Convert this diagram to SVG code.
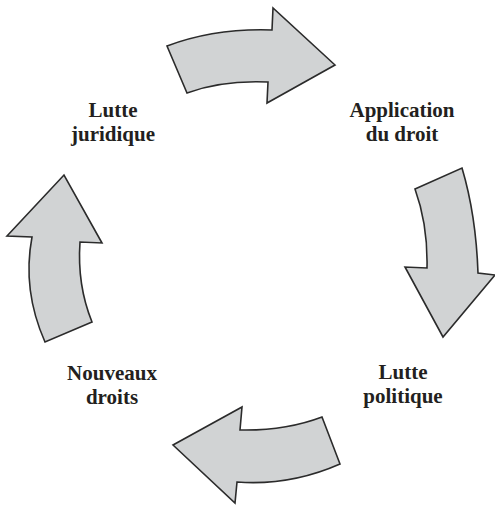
<svg xmlns="http://www.w3.org/2000/svg" width="495" height="506" viewBox="0 0 495 506">
<style>
.arr{fill:#d1d3d4;stroke:#2b2b2b;stroke-width:1.6;stroke-linejoin:miter}
.lbl{font-family:"Liberation Serif","Times New Roman",serif;font-weight:bold;font-size:21px;fill:#231f20;text-anchor:middle}
</style>
<rect width="495" height="506" fill="#ffffff"/>
<g id="connectors">
<path id="arrow-top" class="arr" d="M167,46 Q215,28 272,30 L273,8 L335,65 L267,103 L268,82 Q222,80 187,93 Z"/>
<path id="arrow-right" class="arr" d="M415,189 L462,168 Q476,215 478,273 L495,275 L443,337 L405,267 L427,268 Q428,225 415,189 Z"/>
<path id="arrow-bottom" class="arr" d="M322,417 L340,464 Q290,486 237,482 L235,503 L173,445 L242,407 L240,430 Q285,431 322,417 Z"/>
<path id="arrow-left" class="arr" d="M92,322 L45,342 Q22,290 32,237 L7,236 L64,175 L102,243 L80,242 Q77,285 92,322 Z"/>
</g>
<g id="node-lutte-juridique">
<text class="lbl" x="113" y="117">Lutte</text>
<text class="lbl" x="113" y="141">juridique</text>
</g>
<g id="node-application-du-droit">
<text class="lbl" x="402" y="117">Application</text>
<text class="lbl" x="402" y="141">du droit</text>
</g>
<g id="node-lutte-politique">
<text class="lbl" x="403" y="379">Lutte</text>
<text class="lbl" x="403" y="403">politique</text>
</g>
<g id="node-nouveaux-droits">
<text class="lbl" x="112" y="380">Nouveaux</text>
<text class="lbl" x="112" y="404">droits</text>
</g>
</svg>
